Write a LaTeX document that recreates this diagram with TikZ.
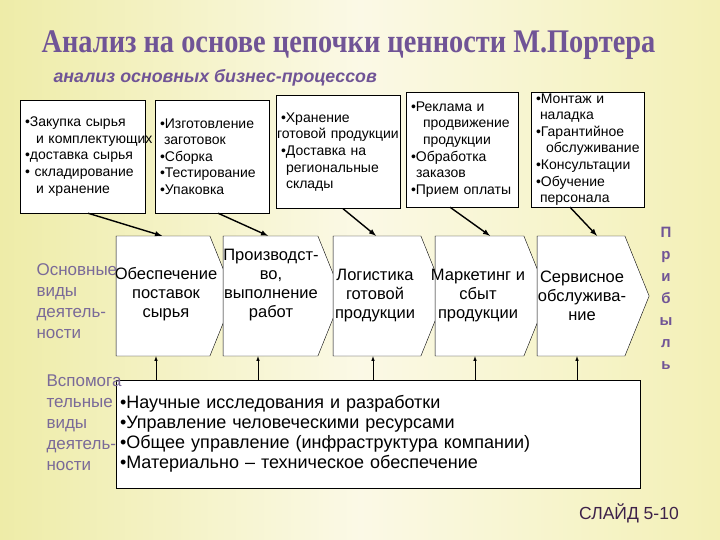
\documentclass[tikz,border=0pt]{standalone}
\usepackage{fontspec}
\usepackage{graphicx}
\setmainfont{Liberation Sans}
\newfontfamily\titlefont{Liberation Serif}
\usetikzlibrary{shapes.symbols}

\definecolor{slidebg}{RGB}{251,249,230}
\definecolor{slideleft}{RGB}{238,236,168}
\definecolor{slideright}{RGB}{243,240,182}
\definecolor{porter}{RGB}{112,84,150}
\definecolor{sidetext}{RGB}{122,106,152}
\definecolor{slidenum}{RGB}{62,34,74}

\begin{document}
\begin{tikzpicture}[x=1pt, y=-1pt,
  topbox/.style={draw, fill=white, rectangle, inner xsep=5pt, inner ysep=0pt, minimum height=113pt, align=left, font=\fontsize{14}{16.6}\selectfont},
  chev/.style={signal, signal to=east, signal pointer angle=136, draw, fill=white, minimum height=120pt, inner sep=0pt},
  chevtext/.style={align=center, font=\fontsize{16.5}{19}\selectfont},
  side/.style={align=left, text=sidetext, font=\fontsize{17}{21}\selectfont}]
\useasboundingbox (0,0) rectangle (720,540);
\shade[left color=slideleft, right color=slideright, middle color=slidebg] (0,0) rectangle (720,540);

% headings
\node[text=porter, font=\titlefont\fontsize{33}{38}\selectfont\bfseries] (title) at (348.5,45) {\scalebox{0.86}[1]{Анализ на основе цепочки ценности М.Портера}};
\node[text=porter, anchor=west, font=\fontsize{17.8}{20}\selectfont\bfseries\itshape] (sub) at (50,78) {анализ основных бизнес-процессов};

% business processes
\node[topbox, text width=115pt] (b1) at (82.5,156.5) {•Закупка сырья\\\mbox{\hspace*{11pt}и комплектующих}\\•доставка сырья\\• складирование\\\hspace*{11pt}и хранение};
\node[topbox, text width=104pt] (b2) at (212,156.5) {•Изготовление\\\hspace*{4pt}заготовок\\•Сборка\\•Тестирование\\•Упаковка};
\node[topbox, text width=114pt] (b3) at (338,152) {•Хранение\\\mbox{\hspace*{-4pt}готовой продукции}\\•Доставка на\\\hspace*{5pt}региональные\\\hspace*{5pt}склады};
\node[topbox, text width=102pt, minimum height=115pt] (b4) at (462,149.5) {•Реклама и\\\hspace*{12pt}продвижение\\\hspace*{12pt}продукции\\•Обработка\\\hspace*{5pt}заказов\\•Прием оплаты};
\node[topbox, text width=103pt, minimum height=115pt] (b5) at (587.5,149.5) {•Монтаж и\\\hspace*{4pt}наладка\\•Гарантийное\\\mbox{\hspace*{10pt}обслуживание}\\•Консультации\\•Обучение\\\hspace*{4pt}персонала};

% primary activities
\node[chev, minimum width=118pt] (c1) at (163,296) {};
\node[chev, minimum width=119pt] (c2) at (270.5,296) {};
\node[chev, minimum width=112pt] (c3) at (377,296) {};
\node[chev, minimum width=113pt] (c4) at (479.5,296) {};
\node[chev, minimum width=112pt] (c5) at (581,296) {};
\node[chevtext] (t1) at (166,294) {Обеспечение\\поставок\\сырья};
\node[chevtext] (t2) at (271,285) {Производст-\\во,\\выполнение\\работ};
\node[chevtext] (t3) at (375,296) {Логистика\\готовой\\продукции};
\node[chevtext] (t4) at (478,296) {Маркетинг и\\сбыт\\продукции};
\node[chevtext] (t5) at (582,296) {Сервисное\\обслужива-\\ние};

% support activities
\node[draw, fill=white, minimum width=524pt, minimum height=108pt, text width=516pt, inner xsep=4pt, align=left, font=\fontsize{18}{20}\selectfont] (sb) at (378,434) {•Научные исследования и разработки\\•Управление человеческими ресурсами\\•Общее управление (инфраструктура компании)\\•Материально – техническое обеспечение};

\node[side, anchor=north west] (main) at (33,260) {Основные\\виды\\деятель-\\ности};
\node[side, anchor=north west] (aux) at (43,371) {Вспомога\\тельные\\виды\\деятель-\\ности};

\node[text=porter, align=center, font=\fontsize{15}{22}\selectfont\bfseries] (profit) at (666,298) {П\\р\\и\\б\\ы\\л\\ь};
\node[text=slidenum, font=\fontsize{17.5}{20}\selectfont] (slide) at (629,513) {СЛАЙД 5-10};

% links
\draw[line width=1.4pt, -latex] ([xshift=5.5pt]b1.south) -- ([xshift=-1pt]c1.north);
\draw[line width=1.4pt, -latex] ([xshift=6pt]b2.south) -- ([xshift=-2.5pt]c2.north);
\draw[line width=1.4pt, -latex] ([xshift=5pt]b3.south) -- ([xshift=-1pt]c3.north);
\draw[line width=1.4pt, -latex] ([xshift=-12pt]b4.south) -- ([xshift=10.5pt]c4.north);
\draw[line width=1.4pt, -latex] ([xshift=-17.5pt]b5.south) -- ([xshift=16pt]c5.north);
\foreach \n/\dx [count=\i] in {c1/-7, c2/-12.5, c3/-4, c4/-4.5, c5/-4} {
  \coordinate (u\i) at ([xshift=\dx pt]\n.south);
  \draw[semithick, -latex] (u\i |- sb.north) -- (u\i);
}
\end{tikzpicture}
\end{document}
